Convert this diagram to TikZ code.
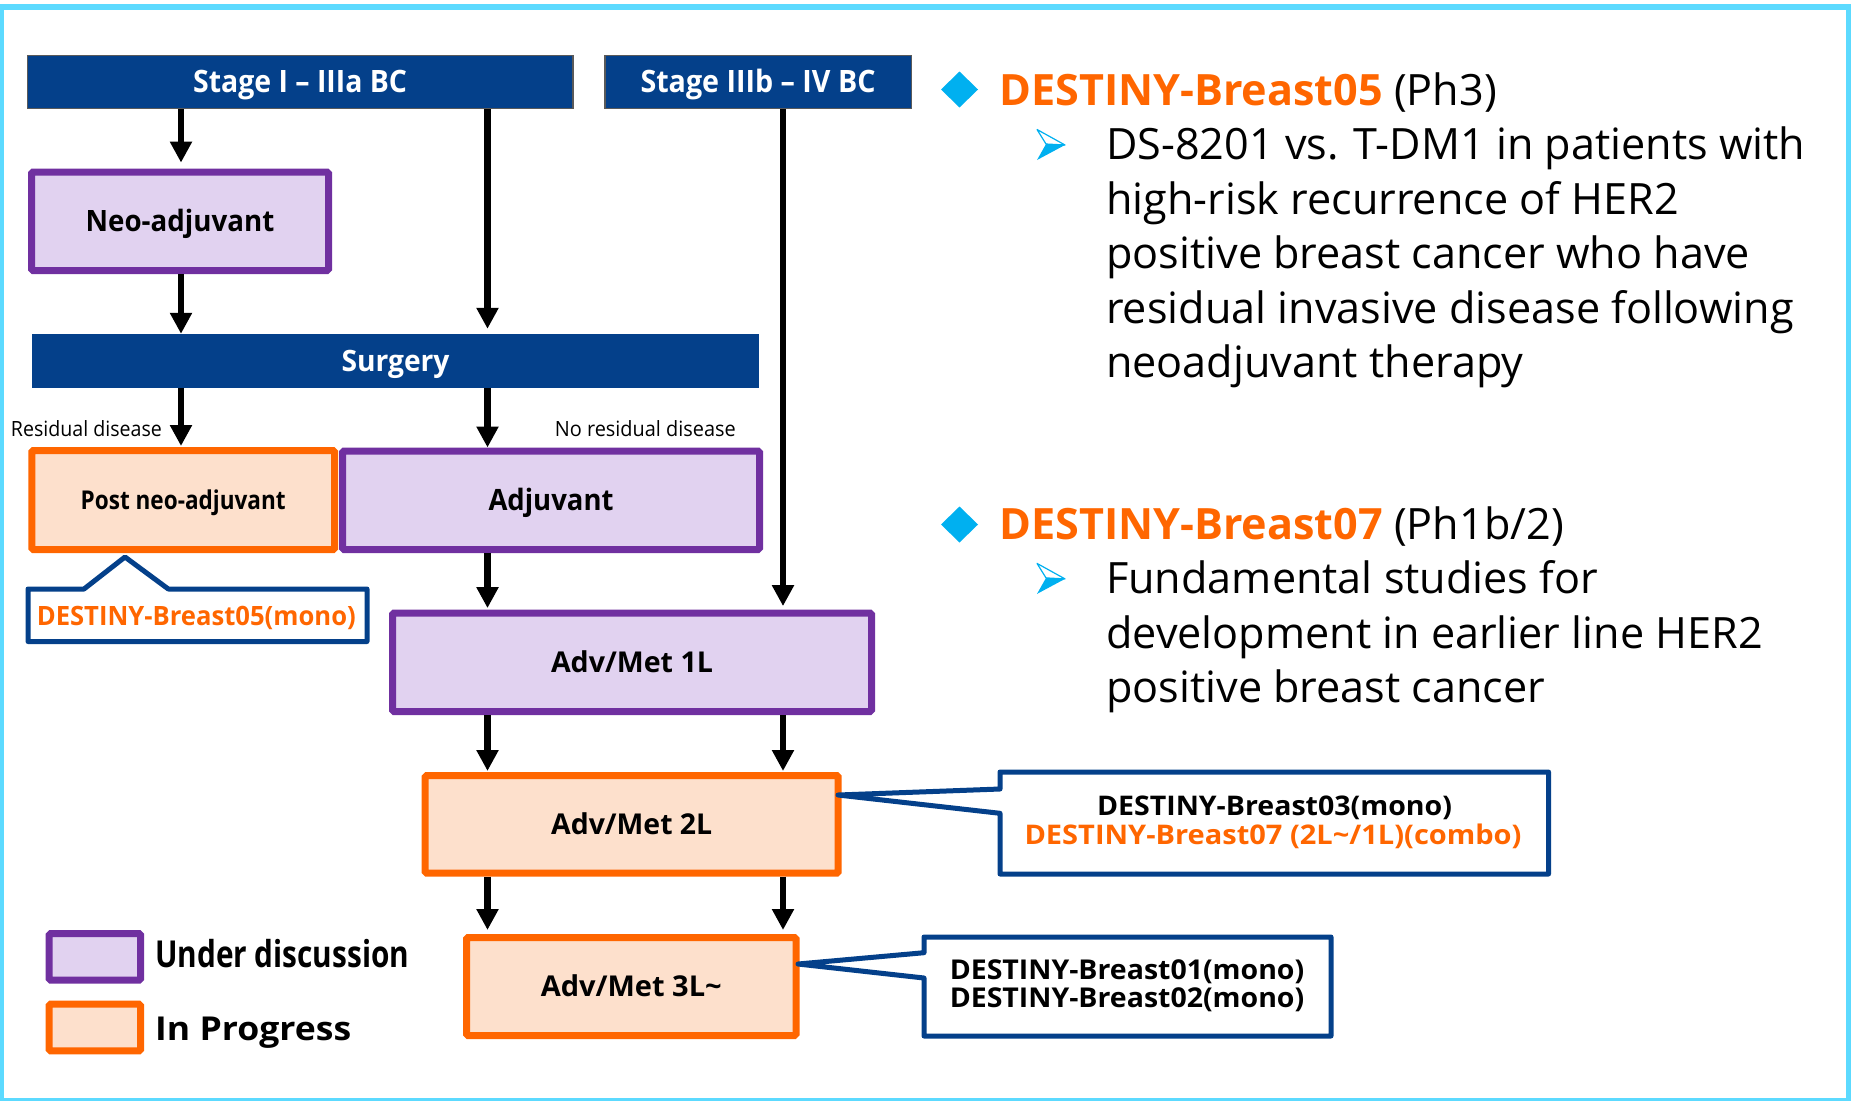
\documentclass[tikz,border=0pt]{standalone}
\usepackage{fontspec}
\setmainfont{Open Sans}
\usetikzlibrary{arrows.meta}
\definecolor{dblue}{RGB}{4,64,138}
\definecolor{sgray}{RGB}{90,90,90}
\definecolor{pborder}{RGB}{112,48,160}
\definecolor{pfill}{RGB}{225,210,240}
\definecolor{oborder}{RGB}{255,102,0}
\definecolor{ofill}{RGB}{253,224,204}
\definecolor{otext}{RGB}{255,102,0}
\definecolor{frame}{RGB}{92,218,255}
\definecolor{bullet}{RGB}{0,176,240}
% #1 target width, #2 target cap height, #3 font switch, #4 text
\newcommand\fitto[4]{%
  \begingroup#3\fontsize{10}{12}\selectfont
  \edef\capr{\the\fontcharht\font`H}%
  \pgfmathsetmacro\fitsz{10*#2/\capr}%
  \fontsize{\fitsz}{\fitsz}\selectfont
  \setbox0=\hbox{#4}\edef\fitw{\the\wd0}%
  \pgfmathsetmacro\fitsx{#1/\fitw}%
  \scalebox{\fitsx}[1]{\raisebox{0pt}[\fontcharht\font`H][0pt]{#4}}%
  \endgroup}
\newcommand\bodyfont{\fontsize{\bodysz}{\bodysz}\selectfont}
\tikzset{
  arr/.style={line width=6.5, -{Triangle[width=21pt,length=21pt]}},
  stagebox/.style={fill=dblue, draw=sgray, line width=1.5, inner sep=0, text=white},
  discbox/.style={fill=pfill, draw=pborder, line width=7, rounded corners=1.5, inner sep=0},
  progbox/.style={fill=ofill, draw=oborder, line width=7, rounded corners=1.5, inner sep=0},
  callout/.style={draw=dblue, line width=5, fill=white, line join=round},
  lbl/.style={inner sep=0},
  rtext/.style={inner sep=0, anchor=base west},
}
\begin{document}%
\setbox0=\hbox{\fontsize{10}{12}\selectfont DS-8201 vs. T-DM1 in patients with}%
\edef\fitw{\the\wd0}%
\pgfmathsetmacro\bodysz{10*699/\fitw}%
\begin{tikzpicture}[x=1pt,y=-1pt]
\useasboundingbox (0,0) rectangle (1851,1100);
\draw[frame, line width=6] (0.5,7) rectangle (1848.5,1101);

% columns for connectors
\coordinate (cA) at (181,0);
\coordinate (cB) at (487.5,0);
\coordinate (cC) at (783,0);

% stage and surgery bars
\node[stagebox, minimum width=545.3, minimum height=52.9] (st1) at (300.1,81.8) {\fitto{214}{22}{\bfseries}{Stage I – IIIa BC}};
\node[stagebox, minimum width=306.5, minimum height=52.9] (st2) at (758,81.8) {\fitto{235}{22}{\bfseries}{Stage IIIb – IV BC}};
\node[fill=dblue, inner sep=0, text=white, minimum width=727, minimum height=53.5] (surg) at (395.5,360.75) {\fitto{108}{21}{\bfseries}{Surgery}};

% treatment boxes
\node[discbox, minimum width=297, minimum height=98.4] (neo) at (180,221.3) {\fitto{188.6}{21}{\bfseries}{Neo-adjuvant}};
\node[progbox, minimum width=302.7, minimum height=99] (post) at (183.2,500) {\fitto{205}{18.5}{\bfseries}{Post neo-adjuvant}};
\node[discbox, minimum width=417, minimum height=98.5] (adj) at (551,500.25) {\fitto{125}{21}{\bfseries}{Adjuvant}};
\node[discbox, minimum width=479, minimum height=98.4] (l1) at (632,662.3) {\fitto{162}{20.5}{\bfseries}{Adv/Met 1L}};
\node[progbox, minimum width=413, minimum height=97.7] (l2) at (631.7,824.35) {\fitto{161}{20.5}{\bfseries}{Adv/Met 2L}};
\node[progbox, minimum width=329.5, minimum height=98] (l3) at (631.25,986.5) {\fitto{181}{20.5}{\bfseries}{Adv/Met 3L\textasciitilde}};

% labels
\node[lbl, anchor=west] (resid) at (10.7,428.6) {\fitto{151}{15}{}{Residual disease}};
\node[lbl, anchor=west] (noresid) at (554.6,428.6) {\fitto{181}{15}{}{No residual disease}};

% connectors
\draw[arr, shorten >=6] (cA |- st1.south) -- (cA |- neo.north);
\draw[arr] (cA |- neo.south) -- (cA |- surg.north);
\draw[arr, shorten >=1] (cA |- surg.south) -- (cA |- post.north);
\draw[arr, shorten >=5] (cB |- st1.south) -- (cB |- surg.north);
\draw[arr] (cB |- surg.south) -- (cB |- adj.north);
\draw[arr, shorten >=1.5] (cB |- adj.south) -- (cB |- l1.north);
\draw[arr, shorten >=3.5] (cC |- st2.south) -- (cC |- l1.north);
\draw[arr, shorten >=1] (cB |- l1.south) -- (cB |- l2.north);
\draw[arr, shorten >=1] (cC |- l1.south) -- (cC |- l2.north);
\draw[arr, shorten >=4] (cB |- l2.south) -- (cB |- l3.north);
\draw[arr, shorten >=4] (cC |- l2.south) -- (cC |- l3.north);

% callouts
\draw[callout] (28,589) -- (84,589) -- (125,557) -- (168.3,589) -- (367,589) -- (367,641.5) -- (28,641.5) -- cycle;
\node[lbl, text=otext] (co5) at (196.3,616.2) {\fitto{319}{19}{\bfseries}{DESTINY-Breast05(mono)}};
\draw[callout] (1000,772) -- (1548.5,772) -- (1548.5,874) -- (1000,874) -- (1000,813.3) -- (838,795) -- (1000,789) -- cycle;
\node[lbl] (co3) at (1274.5,806.3) {\fitto{355}{19.3}{\bfseries}{DESTINY-Breast03(mono)}};
\node[lbl, text=otext] (co7) at (1273,834.7) {\fitto{497}{19.3}{\bfseries}{DESTINY-Breast07 (2L\textasciitilde/1L)(combo)}};
\draw[callout] (924,937) -- (1331,937) -- (1331,1036) -- (924,1036) -- (924,978) -- (798,964) -- (924,952.7) -- cycle;
\node[lbl] (co1) at (1127,970) {\fitto{354.5}{19.5}{\bfseries}{DESTINY-Breast01(mono)}};
\node[lbl] (co2) at (1127,998) {\fitto{354.5}{19.5}{\bfseries}{DESTINY-Breast02(mono)}};

% legend
\node[discbox, minimum width=91.3, minimum height=46.6] (legd) at (94.85,956.8) {};
\node[lbl, anchor=west] (legdt) at (155,954.5) {\fitto{254}{26.5}{\bfseries}{Under discussion}};
\node[progbox, minimum width=91.3, minimum height=46.6] (legp) at (94.85,1027.5) {};
\node[lbl, anchor=west] (legpt) at (155,1029) {\fitto{196}{23.5}{\bfseries}{In Progress}};

% right-hand text
\fill[bullet] (941,89.5) -- (959.5,71.5) -- (978,89.5) -- (959.5,107.5) -- cycle;
\node[rtext] (h5) at (999,105.4) {\bodyfont{\bfseries\color{otext}DESTINY-Breast05} (Ph3)};
\draw[bullet, line width=1.2, line join=round] (1037,129.5) -- (1065,145) -- (1046,144) -- cycle;
\fill[bullet] (1046,144) -- (1065,145) -- (1037,160) -- cycle;
\node[rtext] (b51) at (1106,159.6) {\bodyfont DS-8201 vs. T-DM1 in patients with};
\node[rtext] (b52) at (1106,214.1) {\bodyfont high-risk recurrence of HER2};
\node[rtext] (b53) at (1106,268.6) {\bodyfont positive breast cancer who have};
\node[rtext] (b54) at (1106,323.1) {\bodyfont residual invasive disease following};
\node[rtext] (b55) at (1106,377.6) {\bodyfont neoadjuvant therapy};

\fill[bullet] (941,524.5) -- (959.5,506.5) -- (978,524.5) -- (959.5,542.5) -- cycle;
\node[rtext] (h7) at (999,539.3) {\bodyfont{\bfseries\color{otext}DESTINY-Breast07} (Ph1b/2)};
\draw[bullet, line width=1.2, line join=round] (1037,563.4) -- (1065,578.9) -- (1046,577.9) -- cycle;
\fill[bullet] (1046,577.9) -- (1065,578.9) -- (1037,593.9) -- cycle;
\node[rtext] (b71) at (1106,593.7) {\bodyfont Fundamental studies for};
\node[rtext] (b72) at (1106,648.2) {\bodyfont development in earlier line HER2};
\node[rtext] (b73) at (1106,702.7) {\bodyfont positive breast cancer};
\end{tikzpicture}
\end{document}
